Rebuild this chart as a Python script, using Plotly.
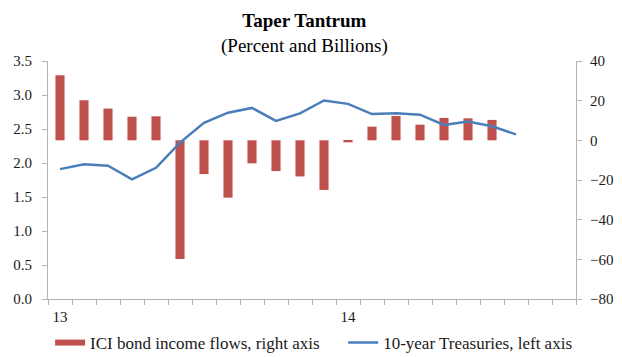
import plotly.graph_objects as go

months = list(range(22))
x_labels = {0: "13", 12: "14"}
flows = [32.8, 20.2, 16.0, 11.9, 12.1, -59.8, -17.0, -28.9, -11.6, -15.5, -18.2,
         -25.0, -1.0, 6.9, 12.3, 7.9, 11.3, 11.1, 10.3, None, None, None]
treasuries = [1.91, 1.98, 1.96, 1.76, 1.93, 2.30, 2.59, 2.74, 2.81, 2.62, 2.73,
              2.92, 2.87, 2.72, 2.73, 2.71, 2.56, 2.61, 2.54, 2.42, None, None]
left_ticks = [0.0, 0.5, 1.0, 1.5, 2.0, 2.5, 3.0, 3.5]
grid_levels = [0.5, 1.0, 1.5, 2.0, 2.5, 3.0]

title_main = "Taper Tantrum"
title_sub = "(Percent and Billions)"
bar_name = "ICI bond income flows, right axis"
line_name = "10-year Treasuries, left axis"

serif = "Liberation Serif"
grid = "#b3b3b3"
bar_color = "#C0504D"
line_color = "#4A7EBB"
tickfont = dict(family=serif, size=15, color="#1a1a1a")
legfont = dict(family=serif, size=17, color="#1a1a1a")

fig = go.Figure()
fig.add_trace(go.Bar(
    x=months, y=flows, name=bar_name, showlegend=False,
    marker=dict(color=bar_color, line=dict(width=0)), width=0.38,
    yaxis="y",
))
# legend entry for the bars, drawn as a wide block like the original
fig.add_trace(go.Scatter(
    x=[None], y=[None], name=bar_name, mode="lines",
    line=dict(color=bar_color, width=6), yaxis="y", legend="legend",
))
fig.add_trace(go.Scatter(
    x=months, y=treasuries, name=line_name,
    mode="lines", line=dict(color=line_color, width=2.5),
    yaxis="y2", legend="legend2",
))

fig.update_layout(
    width=614, height=349,
    margin=dict(l=40, r=46, t=53, b=58, autoexpand=False),
    paper_bgcolor="white", plot_bgcolor="white",
    font=dict(family=serif, size=15, color="#1a1a1a"),
    showlegend=True,
    legend=dict(orientation="h", x=0.004, xanchor="left", y=-0.185, yanchor="middle",
                font=legfont, itemwidth=30, bgcolor="rgba(0,0,0,0)"),
    legend2=dict(orientation="h", x=0.559, xanchor="left", y=-0.185, yanchor="middle",
                 font=legfont, itemwidth=30, bgcolor="rgba(0,0,0,0)"),
    bargap=0.6,
    annotations=[
        dict(text="<b>" + title_main + "</b><br>" + title_sub,
             xref="paper", yref="paper", align="center",
             x=0.485, y=1.2227, xanchor="center", yanchor="top", showarrow=False,
             font=dict(family=serif, size=19, color="black")),
    ],
    xaxis=dict(
        range=[-0.5, 21.5], tickmode="array",
        tickvals=list(x_labels.keys()), ticktext=list(x_labels.values()),
        ticks="", showgrid=False, zeroline=False, tickfont=tickfont,
        showline=True, linecolor=grid, linewidth=1,
        minor=dict(tickmode="array", tickvals=[i - 0.5 for i in range(23)],
                   ticks="outside", ticklen=5, tickcolor=grid, showgrid=False),
        ticklabelstandoff=4,
    ),
    yaxis=dict(
        side="right", range=[-80, 40], dtick=20, tick0=0,
        showgrid=False, zeroline=False, tickfont=tickfont,
        showline=True, linecolor=grid, linewidth=1,
        ticks="outside", ticklen=5, tickcolor=grid, ticklabelstandoff=5,
    ),
    yaxis2=dict(
        side="left", overlaying="y", range=[0, 3.5],
        tickmode="array", tickvals=left_ticks, tickformat=".1f", tickfont=tickfont,
        showgrid=False, zeroline=False,
        showline=True, linecolor=grid, linewidth=1,
        ticks="outside", ticklen=5, tickcolor=grid, ticklabelstandoff=7,
    ),
    yaxis3=dict(
        overlaying="y", range=[0, 3.5], tickmode="array", tickvals=grid_levels,
        showticklabels=False, ticks="", showline=False, zeroline=False,
        showgrid=True, gridcolor=grid, gridwidth=1,
    ),
)

fig.write_html("out.html")
